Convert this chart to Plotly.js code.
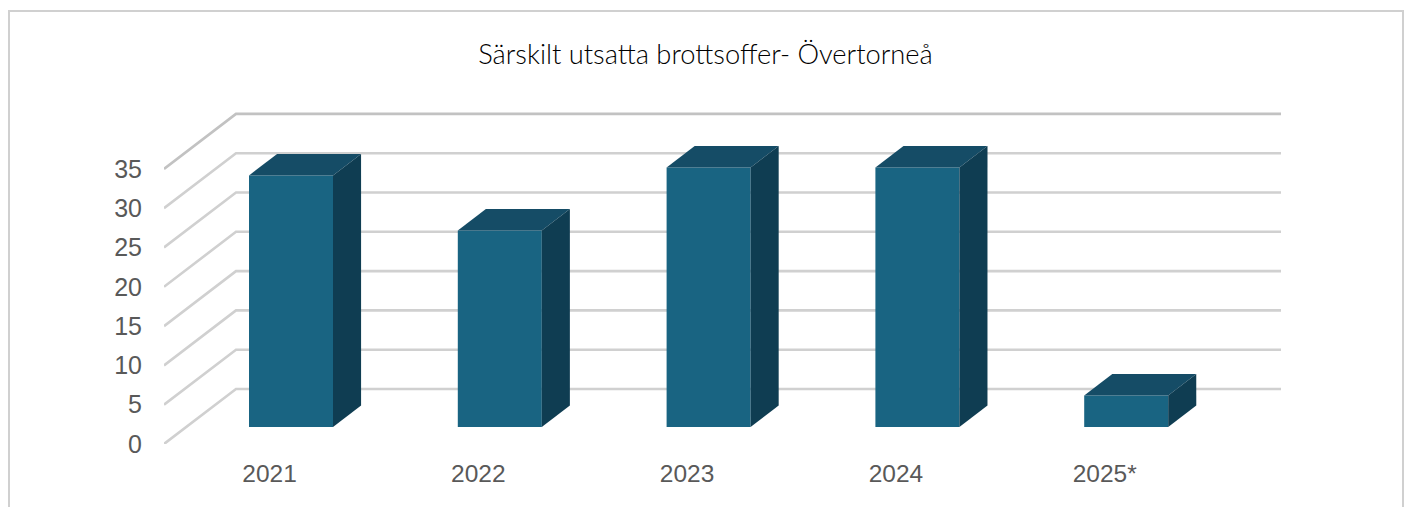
<!DOCTYPE html>
<html>
<head>
<meta charset="utf-8">
<script src="https://cdn.plot.ly/plotly-3.0.1.min.js"></script>
<style>html,body{margin:0;padding:0;background:#fff;overflow:hidden}</style>
</head>
<body>
<div id="chart" style="width:1408px;height:507px"></div>
<script>
const categories = ["2021", "2022", "2023", "2024", "2025*"];
const values = [32, 25, 33, 33, 4];
const gridValues = [0, 5, 10, 15, 20, 25, 30, 35];

const W = 1408, H = 507;
const plotL = 164, plotR = 1281, plotT = 100, plotB = 444;
const pxPerCat = 208.8, pxPerUnit = 7.86, catZeroPx = 269.5;

const depthX = 72 / pxPerCat, depthY = 55 / pxPerUnit;
const barFrontDepth = 0.31, barBackDepth = 0.70, barWidth = 84 / pxPerCat;
const barShiftX = 21.5 / pxPerCat;

const xMin = (plotL - catZeroPx) / pxPerCat;
const xMax = (plotR - catZeroPx) / pxPerCat;
const yMax = (plotB - plotT) / pxPerUnit;
const paperX = px => (px - plotL) / (plotR - plotL);
const paperY = py => (plotB - py) / (plotB - plotT);

const frontX = i => i + barShiftX;
const base = depthY * barFrontDepth;
const dX = depthX * (barBackDepth - barFrontDepth);
const dY = depthY * (barBackDepth - barFrontDepth);

const gridShapes = gridValues.map((v, k) => ({
  type: "path", layer: "below", xref: "x", yref: "y",
  path: `M ${xMin} ${v} L ${xMin + depthX} ${v + depthY} L ${xMax} ${v + depthY}`,
  line: {color: k === gridValues.length - 1 ? "#c2c2c2" : "#d0d0d0", width: 2.6}
}));

const frame = {
  type: "path", xref: "paper", yref: "paper", layer: "below",
  path: `M ${paperX(9)} ${paperY(520)} L ${paperX(9)} ${paperY(11)} L ${paperX(1403)} ${paperY(11)} L ${paperX(1403)} ${paperY(520)}`,
  line: {color: "#d0d0d0", width: 2}
};

const traces = [{
  type: "bar",
  x: categories.map((c, i) => frontX(i)),
  y: values,
  base: values.map(() => base),
  width: barWidth,
  marker: {color: "#196482", line: {width: 0}}
}];

values.forEach((v, i) => {
  const l = frontX(i) - barWidth / 2, r = frontX(i) + barWidth / 2, t = base + v;
  traces.push({
    type: "scatter", mode: "lines", fill: "toself", fillcolor: "#154c66",
    line: {width: 0, color: "#154c66"},
    x: [l, r, r + dX, l + dX, l], y: [t, t, t + dY, t + dY, t]
  });
  traces.push({
    type: "scatter", mode: "lines", fill: "toself", fillcolor: "#0f3d52",
    line: {width: 0, color: "#0f3d52"},
    x: [r, r + dX, r + dX, r, r], y: [base, base + dY, t + dY, t, base]
  });
});

const xTickFont = {family: "'Liberation Sans', Arial, sans-serif", size: 24.5, color: "#595959"};
const yTickFont = {family: "'Liberation Sans', Arial, sans-serif", size: 25, color: "#595959"};

const layout = {
  width: W, height: H,
  margin: {l: plotL, r: W - plotR, t: plotT, b: H - plotB, pad: 0},
  paper_bgcolor: "#ffffff", plot_bgcolor: "rgba(0,0,0,0)",
  showlegend: false, hovermode: false,
  title: {
    text: "Särskilt utsatta brottsoffer- Övertorneå",
    x: 705.5 / W, xref: "container", xanchor: "center",
    y: 1 - 54 / H, yref: "container", yanchor: "middle",
    font: {family: "Lato, sans-serif", size: 27.3, weight: 300, color: "#000000"}
  },
  xaxis: {
    range: [xMin, xMax], tickvals: categories.map((c, i) => i), ticktext: categories,
    showgrid: false, zeroline: false, showline: false, ticks: "",
    ticklabelstandoff: 12, tickfont: xTickFont, fixedrange: true
  },
  yaxis: {
    range: [0, yMax], tickvals: gridValues, ticktext: gridValues.map(String),
    showgrid: false, zeroline: false, showline: false, ticks: "",
    ticklabelstandoff: 21, tickfont: yTickFont, fixedrange: true
  },
  shapes: [frame].concat(gridShapes)
};

Plotly.newPlot("chart", traces, layout, {displayModeBar: false, responsive: false});
</script>
</body>
</html>
